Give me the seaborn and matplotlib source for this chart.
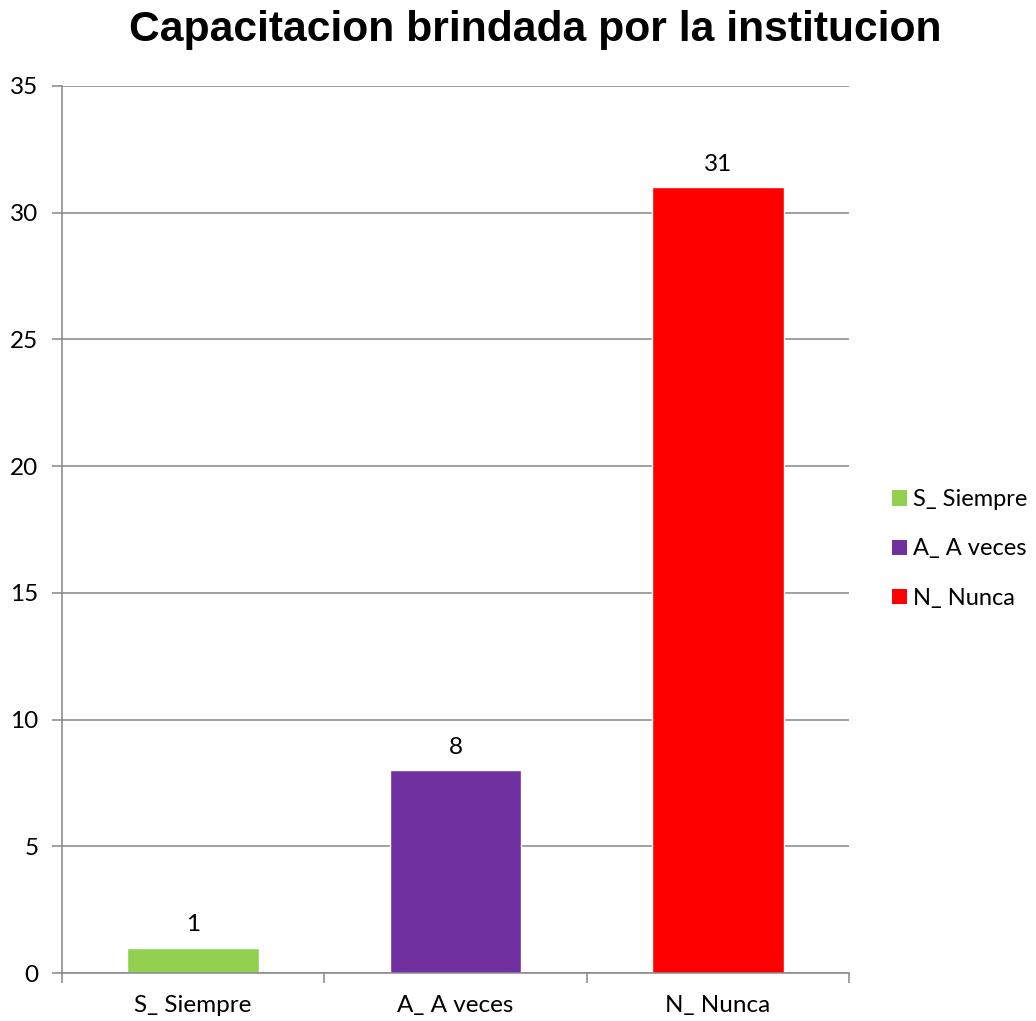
import matplotlib
matplotlib.use("Agg")
import matplotlib.pyplot as plt
import seaborn as sns
import pandas as pd
from matplotlib.patches import Patch

categories = ["S_ Siempre", "A_ A veces", "N_ Nunca"]
values = [1, 8, 31]
colors = ["#92D050", "#7030A0", "#FF0000"]
title = "Capacitacion brindada por la institucion"
yticks = [0, 5, 10, 15, 20, 25, 30, 35]

sns.set_theme(style="white")
plt.rcParams['font.family'] = ['Lato', 'DejaVu Sans']
plt.rcParams['text.color'] = 'black'

df = pd.DataFrame({"cat": categories, "val": values})

fig = plt.figure(figsize=(10.36, 10.21), dpi=100)
ax = fig.add_axes([62/1036, 1-973/1021, (849-62)/1036, (973-86)/1021])

sns.barplot(data=df, x="cat", y="val", hue="cat", palette=colors, width=0.503,
            ax=ax, legend=False, saturation=1)

FS = 17.5
ax.set_ylim(0, 35)
ax.set_xlim(-0.5, 2.5)
ax.set_yticks(yticks)
ax.yaxis.grid(True, color="#868686", linewidth=1.1)
ax.set_axisbelow(True)
for s in ["top", "right"]:
    ax.spines[s].set_visible(False)
for s in ["left", "bottom"]:
    ax.spines[s].set_color("#868686")
    ax.spines[s].set_linewidth(1.1)

ax.set_xlabel("")
ax.set_ylabel("")
ax.tick_params(axis="y", left=True, length=7, color="#868686", width=1.1,
               labelsize=FS, pad=10, labelcolor="black")
ax.set_xticks([0, 1, 2])
ax.set_xticklabels(categories)
ax.tick_params(axis="x", bottom=False, labelsize=FS, pad=10, labelcolor="black")
ax.set_xticks([-0.5, 0.5, 1.5, 2.5], minor=True)
ax.tick_params(axis="x", which="minor", bottom=True, length=7, color="#868686", width=1.1)

for i, v in enumerate(values):
    ax.annotate(str(v), (i, v), xytext=(0, 9), textcoords="offset points",
                ha="center", va="bottom", fontsize=FS, color="black")

handles = [Patch(facecolor=c, edgecolor="none") for c in colors]
fig.legend(handles, categories, loc="center left", bbox_to_anchor=(892/1036, 1-549/1021),
           frameon=False, fontsize=17, handlelength=0.62, handleheight=0.62,
           handletextpad=0.25, labelspacing=1.2, borderpad=0, borderaxespad=0,
           labelcolor="black")

fig.suptitle(title, x=535/1036, y=1-30/1021, va="center", fontsize=30.7,
             fontweight="bold", color="black", family=["Liberation Sans", "DejaVu Sans"])

fig.savefig("out.png", dpi=100, facecolor="white")
